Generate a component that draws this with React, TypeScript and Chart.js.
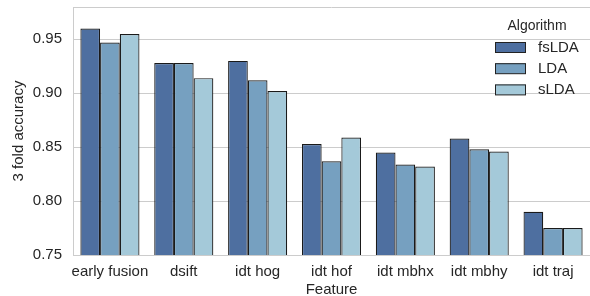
import React, { useEffect, useRef } from "react";
import { Chart, registerables } from "chart.js";

Chart.register(...registerables);

const categories = ["early fusion", "dsift", "idt hog", "idt hof", "idt mbhx", "idt mbhy", "idt traj"];
const fsLDA = [0.960, 0.928, 0.930, 0.853, 0.845, 0.858, 0.790];
const LDA = [0.947, 0.928, 0.912, 0.837, 0.834, 0.848, 0.775];
const sLDA = [0.955, 0.914, 0.902, 0.859, 0.832, 0.846, 0.775];
const seriesNames = ["fsLDA", "LDA", "sLDA"];
const seriesColors = ["#4e6fa0", "#76a0c0", "#a4c9d9"];
const yTicks = [0.75, 0.80, 0.85, 0.90, 0.95];
const yMin = 0.75;
const yMax = 0.98;

const FONT = "'Liberation Sans', Arial, sans-serif";
const TEXT = "#262626";

const frameAndLegend = {
  id: "frameAndLegend",
  afterDatasetsDraw(chart: any) {
    const { ctx, chartArea } = chart;
    ctx.save();
    ctx.strokeStyle = "#cccccc";
    ctx.lineWidth = 1;
    ctx.beginPath();
    ctx.moveTo(chartArea.left, chartArea.top + 0.5);
    ctx.lineTo(chartArea.right, chartArea.top + 0.5);
    ctx.stroke();

    // legend
    ctx.fillStyle = TEXT;
    ctx.font = `14px ${FONT}`;
    ctx.textAlign = "center";
    ctx.textBaseline = "middle";
    ctx.fillText("Algorithm", 537, 26);
    ctx.textAlign = "left";
    ctx.font = `15px ${FONT}`;
    seriesNames.forEach((name, i) => {
      const y = 42 + i * 21.2;
      ctx.fillStyle = seriesColors[i];
      ctx.fillRect(495, y, 31, 10.5);
      ctx.strokeStyle = "#222222";
      ctx.lineWidth = 1;
      ctx.strokeRect(495.5, y + 0.5, 30, 10);
      ctx.fillStyle = TEXT;
      ctx.fillText(name, 538, y + 5.5);
    });
    ctx.restore();
  },
};

export default function App() {
  const ref = useRef<HTMLCanvasElement>(null);
  useEffect(() => {
    const datasets = [fsLDA, LDA, sLDA].map((d, i) => ({
      label: seriesNames[i],
      data: d,
      backgroundColor: seriesColors[i],
      borderColor: "#1a1a1a",
      borderWidth: 1.2,
      categoryPercentage: 0.8,
      barPercentage: 1.0,
    }));
    const chart = new Chart(ref.current!, {
      type: "bar",
      data: { labels: categories, datasets },
      options: {
        animation: false,
        responsive: false,
        layout: { padding: { top: 7, right: 0, left: 0, bottom: 0 } },
        plugins: { legend: { display: false }, tooltip: { enabled: false } },
        scales: {
          x: {
            grid: { display: false, drawTicks: false },
            border: { color: "#cccccc" },
            ticks: { color: TEXT, font: { size: 15, family: FONT }, padding: 8, maxRotation: 0, minRotation: 0, autoSkip: false },
            title: { display: true, text: "Feature", color: TEXT, font: { size: 15, family: FONT }, padding: { top: 0, bottom: -3 } },
            afterFit: (s: any) => { s.height = 41; s.paddingLeft = 0; s.paddingRight = 0; },
          },
          y: {
            min: yMin,
            max: yMax,
            grid: { color: "#cccccc", drawTicks: false },
            border: { color: "#cccccc" },
            afterBuildTicks: (s: any) => { s.ticks = yTicks.map((v) => ({ value: v })); },
            ticks: {
              color: TEXT,
              font: { size: 15, family: FONT },
              padding: 11,
              callback: (v: any) => Number(v).toFixed(2),
            },
            title: { display: true, text: "3 fold accuracy", color: TEXT, font: { size: 15, family: FONT }, padding: { top: 10, bottom: 0 } },
            afterFit: (s: any) => { s.width = 73; s.paddingTop = 0; s.paddingBottom = 0; },
          },
        },
      },
      plugins: [frameAndLegend],
    });
    return () => chart.destroy();
  }, []);
  return (
    <div style={{ position: "absolute", left: 0, top: 0, width: 590, height: 296 }}>
      <canvas ref={ref} width={590} height={296} />
    </div>
  );
}
